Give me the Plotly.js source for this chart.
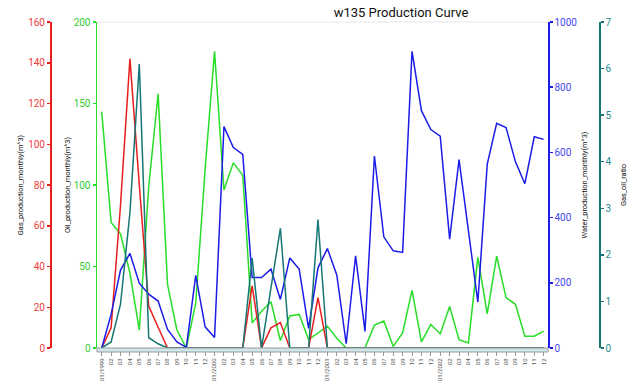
<!DOCTYPE html>
<html><head><meta charset="utf-8">
<script src="https://cdn.plot.ly/plotly-3.0.1.min.js"></script>
<style>html,body{margin:0;padding:0;background:#fff;}#chart{width:641px;height:383px;}</style>
</head><body><div id="chart"></div>
<script>
const months = ['1999-01','1999-02','1999-03','1999-04','1999-05','1999-06','1999-07','1999-08','1999-09','1999-10','1999-11','1999-12',
  '2000-01','2000-02','2000-03','2000-04','2000-05','2000-06','2000-07','2000-08','2000-09','2000-10','2000-11','2000-12',
  '2001-01','2001-02','2001-03','2001-04','2001-05','2001-06','2001-07','2001-08','2001-09','2001-10','2001-11','2001-12',
  '2002-01','2002-02','2002-03','2002-04','2002-05','2002-06','2002-07','2002-08','2002-09','2002-10','2002-11','2002-12'];
const tickLabels = ['01/1999','02','03','04','05','06','07','08','09','10','11','12',
  '01/2000','02','03','04','05','06','07','08','09','10','11','12',
  '01/2001','02','03','04','05','06','07','08','09','10','11','12',
  '01/2002','02','03','04','05','06','07','08','09','10','11','12'];
const gas = [0,9.9,70,142,80,20.6,10.2,0,0,0,0,0,
  0,0,0,0,30.5,0,9.9,12.5,0,0,0,24.7,
  0,0,0,0,0,0,0,0,0,0,0,0,
  0,0,0,0,0,0,0,0,0,0,0,0];
const oil = [145,77,70,46,11,99,156,39,11,0,27.5,110,
  182,97,113.6,106,15.4,22.6,28.4,4.6,19.7,20.6,5.1,9,
  13.4,6,0,0,0,14,16.5,1,9.3,35.4,3.7,14.4,
  8.6,25.5,5.1,3.1,55.6,21,56.4,30.9,26.8,7.2,7.2,10.3];
const water = [0,103,239,290,199,165,144,57,18.5,2,223,65,
  32,679,615,594,216,216,242,149,276,242,60,246,
  305,224,13,283,51,589,341,298,293,910,728,670,
  650,334,578,365,141,564,689,676,571,504,648,640];
const gasOilRatio = [0,0.13,0.94,2.9,6.1,0.22,0.09,0,0,0,0,0,
  0,0,0,0,1.93,0,1.29,2.57,0,0,0,2.76,
  0,0,0,0,0,0,0,0,0,0,0,0,
  0,0,0,0,0,0,0,0,0,0,0,0];

const cGas = 'rgb(232,30,30)', cOil = 'rgb(40,222,40)', cWater = 'rgb(28,28,232)', cGor = 'rgb(22,118,118)';
const W = 641, H = 383, T = 22, B = 35;
const PH = H - T - B;
const fontFam = 'Roboto, "Open Sans", sans-serif';

function line(y, color, axis, name) {
  return {x: months, y: y, type: 'scatter', mode: 'lines', name: name, yaxis: axis,
    line: {color: color, width: 1.5}, hoverinfo: 'skip'};
}
const traces = [
  line(oil, cOil, 'y', 'Oil_production_monthly(m^3)'),
  line(water, cWater, 'y3', 'Water_production_monthly(m^3)'),
  line(gas, cGas, 'y2', 'Gas_production_monthly(m^3)'),
  line(gasOilRatio, cGor, 'y4', 'Gas_oil_ratio')
];

function yax(color, tickColor, range, dtick, title, standoff, extra) {
  return Object.assign({
    range: range, dtick: dtick, showgrid: false, zeroline: false,
    showline: true, linecolor: color, linewidth: 1.5,
    ticks: 'outside', ticklen: 3, tickwidth: 1.5, tickcolor: color,
    tickfont: {size: 10, color: tickColor, family: fontFam},
    title: {text: title, font: {size: 7.4, color: '#111', family: fontFam}, standoff: standoff},
    automargin: false, fixedrange: true
  }, extra);
}

const xd0 = 97 / W, xd1 = 548 / W;
const layout = {
  width: W, height: H,
  margin: {l: 0, r: 0, t: T, b: B},
  paper_bgcolor: '#fff', plot_bgcolor: '#fff',
  showlegend: false,
  font: {family: fontFam},
  title: {text: 'w135 Production Curve', x: 401 / W, xanchor: 'center', xref: 'paper',
    y: 1 - 12 / H, yanchor: 'middle', yref: 'container',
    font: {size: 13, color: '#111', family: fontFam}},
  xaxis: {
    type: 'category', domain: [xd0, xd1], range: [-0.5, 47.46],
    tickmode: 'array', tickvals: months, ticktext: tickLabels, tickangle: -90,
    tickfont: {size: 6, color: '#555', family: fontFam},
    ticks: 'outside', ticklen: 7, tickcolor: '#999', tickwidth: 1,
    showgrid: false, zeroline: false, showline: false, automargin: false, fixedrange: true
  },
  yaxis: yax(cOil, 'rgb(50,205,50)', [0, 200], 50, 'Oil_production_monthly(m^3)', 2, {anchor: 'x', side: 'left'}),
  yaxis2: yax(cGas, 'rgb(235,60,60)', [0, 160], 20, 'Gas_production_monthly(m^3)', 2,
    {overlaying: 'y', anchor: 'free', position: 50 / W, side: 'left'}),
  yaxis3: yax(cWater, 'rgb(70,70,240)', [0, 1000], 200, 'Water_production_monthly(m^3)', 5,
    {overlaying: 'y', anchor: 'x', side: 'right'}),
  yaxis4: yax(cGor, 'rgb(40,140,140)', [0, 7], 1, 'Gas_oil_ratio', 10,
    {overlaying: 'y', anchor: 'free', position: 599 / W, side: 'right'}),
  shapes: [
    {type: 'line', xref: 'paper', yref: 'paper', x0: xd0, x1: xd1, y0: 1, y1: 1,
      line: {color: '#e6e6e6', width: 1}, layer: 'below'},
    {type: 'rect', xref: 'paper', yref: 'paper', x0: xd0, x1: xd1, y0: 0, y1: -4 / PH,
      fillcolor: '#cfe6ec', line: {color: '#9a9a9a', width: 1}, layer: 'above'}
  ]
};

Plotly.newPlot('chart', traces, layout, {displayModeBar: false, staticPlot: true});
</script>
</body></html>
